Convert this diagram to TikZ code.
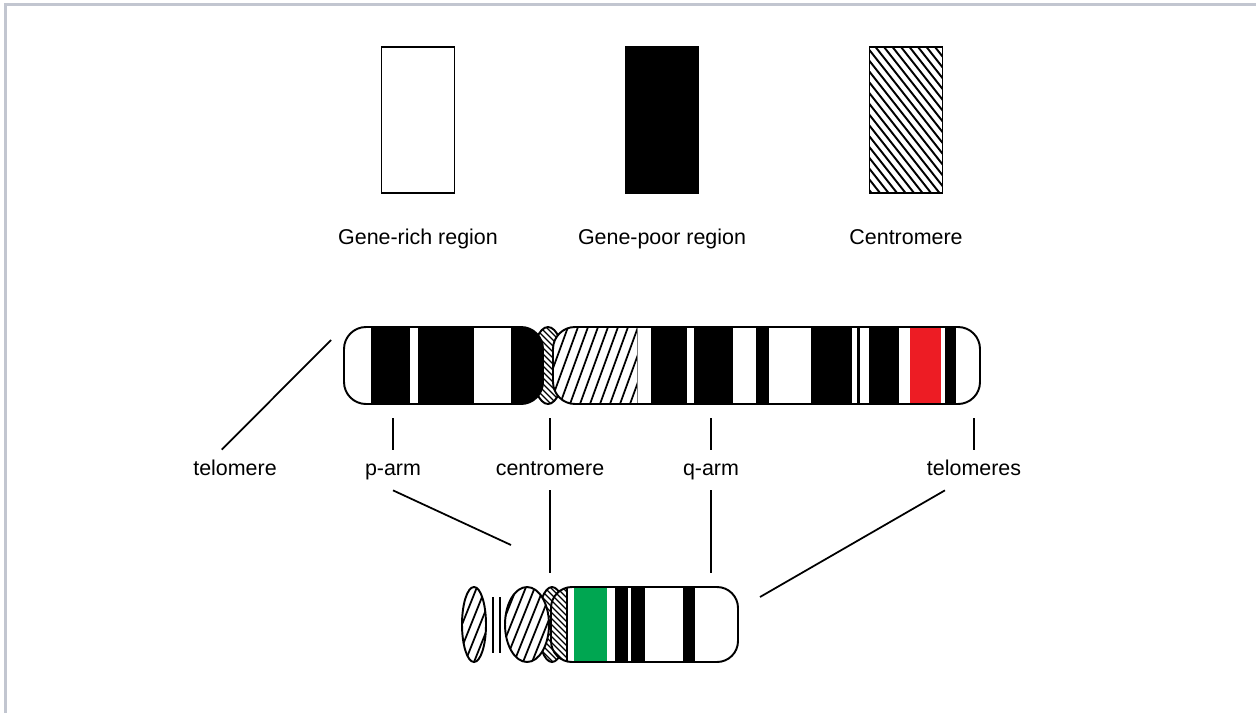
\documentclass[tikz,border=0pt]{standalone}
\usepackage{fontspec}
\setmainfont{Liberation Sans}
\usetikzlibrary{positioning}
\definecolor{framegray}{HTML}{C2C6D0}
\definecolor{bandred}{HTML}{ED1C24}
\definecolor{bandgreen}{HTML}{00A651}

\begin{document}
\begin{tikzpicture}[x=0.02cm, y=-0.02cm]
	\tikzstyle{legendbox} = [draw, line width=0.6pt, minimum width=1.46cm, minimum height=2.92cm, inner sep=0pt]
	\tikzstyle{lbl} = [inner sep=0pt, font=\fontsize{12.2}{14}\selectfont]
	\tikzstyle{armlbl} = [lbl, text height=0.5cm, text depth=0.3cm, anchor=base]
	\tikzstyle{outline} = [draw, line width=1.1pt]
	\tikzstyle{hatch} = [line width=1pt]
	\tikzstyle{finehatch} = [line width=0.8pt]
	\tikzstyle{pointer} = [line width=1pt]

	\useasboundingbox (0,0) rectangle (1256,713);
	\draw[framegray, line width=0.06cm] (1256,5) -- (5.5,5) -- (5.5,713);

	% legend
	\node[legendbox] (rich) at (418,120) {};
	\node[legendbox, fill=black, right=3.4cm of rich] (poor) {};
	\node[legendbox, right=3.4cm of poor, path picture={
		\foreach \s in {-2.6,-2.43,...,1.6}
			\draw[line width=1.1pt] ([xshift=\s cm]path picture bounding box.north west) -- ++(2.3cm,-2.92cm);
	}] (centro) {};
	\node[lbl, anchor=base] (richtxt) at ([yshift=-1.02cm]rich.south) {Gene-rich region};
	\node[lbl, anchor=base] (poortxt) at ([yshift=-1.02cm]poor.south) {Gene-poor region};
	\node[lbl, anchor=base] (centrotxt) at ([yshift=-1.02cm]centro.south) {Centromere};

	% large chromosome: constriction
	\begin{scope}
		\clip (548,365.5) ellipse [x radius=0.32cm, y radius=0.77cm];
		\foreach \s in {460,466,...,575}
			\draw[finehatch] (\s,325) -- ++(82,82);
	\end{scope}
	\draw[outline] (548,365.5) ellipse [x radius=0.32cm, y radius=0.77cm];

	% p-arm
	\begin{scope}
		\clip[rounded corners=0.44cm] (344,327) rectangle (543,404);
		\fill[white] (344,327) rectangle (543,404);
		\foreach \a/\b in {371/410, 418/474, 511/543}
			\fill (\a,327) rectangle (\b,404);
	\end{scope}
	\draw[outline, rounded corners=0.44cm] (344,327) rectangle (543,404);

	% q-arm
	\begin{scope}
		\clip[rounded corners=0.44cm] (553,327) rectangle (980,404);
		\fill[white] (553,327) rectangle (980,404);
		\begin{scope}
			\clip (553,327) rectangle (637,404);
			\foreach \s in {510,520,...,640}
				\draw[hatch] (\s,404) -- ++(28,-77);
		\end{scope}
		\draw[gray, line width=0.5pt] (637,327) -- (637,404);
		\foreach \a/\b in {651/687, 694/733, 756/769, 811/852, 857/860, 869/899, 945/956}
			\fill (\a,327) rectangle (\b,404);
		\fill[bandred] (910,327) rectangle (941,404);
	\end{scope}
	\draw[outline, rounded corners=0.44cm] (553,327) rectangle (980,404);

	% small chromosome
	\begin{scope}
		\clip (474,624.5) ellipse [x radius=0.24cm, y radius=0.75cm];
		\foreach \s in {420,429,...,500}
			\draw[hatch] (\s,662) -- ++(30,-75);
	\end{scope}
	\draw[outline] (474,624.5) ellipse [x radius=0.24cm, y radius=0.75cm];
	\draw[line width=1.2pt] (493,597) -- (493,653) (500,597) -- (500,653);

	\begin{scope}
		\clip (552,624.5) ellipse [x radius=0.28cm, y radius=0.75cm];
		\foreach \s in {470,476,...,580}
			\draw[finehatch] (\s,585) -- ++(80,80);
	\end{scope}
	\draw[outline] (552,624.5) ellipse [x radius=0.28cm, y radius=0.75cm];

	\begin{scope}
		\clip (527,624.5) ellipse [x radius=0.44cm, y radius=0.75cm];
		\fill[white] (500,585) rectangle (555,665);
		\foreach \s in {460,469,...,560}
			\draw[hatch] (\s,662) -- ++(30,-75);
	\end{scope}
	\draw[outline] (527,624.5) ellipse [x radius=0.44cm, y radius=0.75cm];

	\begin{scope}
		\clip[rounded corners=0.42cm] (551,587) rectangle (738,662);
		\fill[white] (551,587) rectangle (738,662);
		\begin{scope}
			\clip (551,587) rectangle (567,662);
			\foreach \s in {470,476,...,580}
				\draw[finehatch] (\s,585) -- ++(80,80);
		\end{scope}
		\draw[line width=0.6pt] (567,587) -- (567,662);
		\fill[bandgreen] (574,587) rectangle (607,662);
		\foreach \a/\b in {615/628, 631/645, 683/695}
			\fill (\a,587) rectangle (\b,662);
	\end{scope}
	\draw[outline, rounded corners=0.42cm] (551,587) rectangle (738,662);

	% label pointers
	\coordinate (telTip) at (331,340);
	\coordinate (parmTip) at (393,418);
	\coordinate (cenTip) at (550,418);
	\coordinate (qarmTip) at (711,418);
	\coordinate (telsTip) at (974,418);
	\coordinate (smallP) at (511,545);
	\coordinate (smallCen) at (550,573);
	\coordinate (smallQ) at (711,573);
	\coordinate (smallTel) at (760,597);

	\node[armlbl] (telL) at (235,475) {telomere};
	\node[armlbl] (parmL) at (393,475) {p-arm};
	\node[armlbl] (cenL) at (550,475) {centromere};
	\node[armlbl] (qarmL) at (711,475) {q-arm};
	\node[armlbl] (telsL) at (974,475) {telomeres};

	\draw[pointer] (telTip) -- (telL.123);
	\draw[pointer] (parmTip) -- (parmL.north);
	\draw[pointer] (cenTip) -- (cenL.north);
	\draw[pointer] (qarmTip) -- (qarmL.north);
	\draw[pointer] (telsTip) -- (telsL.north);
	\draw[pointer] (parmL.south) -- (smallP);
	\draw[pointer] (cenL.south) -- (smallCen);
	\draw[pointer] (qarmL.south) -- (smallQ);
	\draw[pointer] (telsL.215) -- (smallTel);
\end{tikzpicture}
\end{document}
